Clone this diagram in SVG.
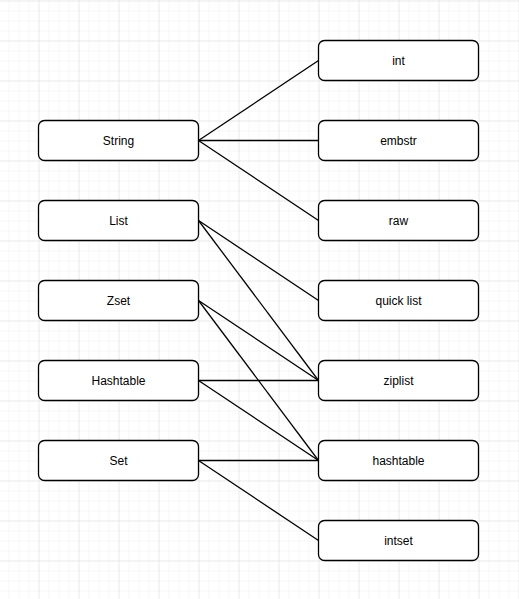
<svg xmlns="http://www.w3.org/2000/svg" width="519" height="599" viewBox="0 0 519 599">
<style>
.box{fill:#ffffff;stroke:#000000;stroke-width:1.3}
.lbl{font-family:"Liberation Sans",Arial,sans-serif;font-size:12px;fill:#000000;text-anchor:middle;dominant-baseline:central}
.edge{stroke:#000000;stroke-width:1.3;fill:none}
</style>
<defs>
<pattern id="minor" x="8.5" y="0.5" width="10" height="10" patternUnits="userSpaceOnUse">
<path d="M0 0 H10 M0 0 V10" stroke="#f0f0f0" stroke-width="1" fill="none"/>
</pattern>
<pattern id="major" x="38.5" y="0.5" width="40" height="40" patternUnits="userSpaceOnUse">
<path d="M0 0 H40 M0 0 V40" stroke="#e0e0e0" stroke-width="1" fill="none"/>
</pattern>
</defs>
<rect width="519" height="599" fill="#ffffff"/>
<rect width="519" height="599" fill="url(#minor)"/>
<rect width="519" height="599" fill="url(#major)"/>
<g id="connectors">
<line class="edge" x1="198.5" y1="140.5" x2="318.5" y2="60.5"/>
<line class="edge" x1="198.5" y1="140.5" x2="318.5" y2="140.5"/>
<line class="edge" x1="198.5" y1="140.5" x2="318.5" y2="220.5"/>
<line class="edge" x1="198.5" y1="220.5" x2="318.5" y2="300.5"/>
<line class="edge" x1="198.5" y1="220.5" x2="318.5" y2="380.5"/>
<line class="edge" x1="198.5" y1="300.5" x2="318.5" y2="380.5"/>
<line class="edge" x1="198.5" y1="300.5" x2="318.5" y2="460.5"/>
<line class="edge" x1="198.5" y1="380.5" x2="318.5" y2="380.5"/>
<line class="edge" x1="198.5" y1="380.5" x2="318.5" y2="460.5"/>
<line class="edge" x1="198.5" y1="460.5" x2="318.5" y2="460.5"/>
<line class="edge" x1="198.5" y1="460.5" x2="318.5" y2="540.5"/>
</g>
<g id="String"><rect class="box" x="38.5" y="120.5" width="160" height="40" rx="6"/><text class="lbl" x="118.5" y="140.5">String</text></g>
<g id="List"><rect class="box" x="38.5" y="200.5" width="160" height="40" rx="6"/><text class="lbl" x="118.5" y="220.5">List</text></g>
<g id="Zset"><rect class="box" x="38.5" y="280.5" width="160" height="40" rx="6"/><text class="lbl" x="118.5" y="300.5">Zset</text></g>
<g id="Hashtable"><rect class="box" x="38.5" y="360.5" width="160" height="40" rx="6"/><text class="lbl" x="118.5" y="380.5">Hashtable</text></g>
<g id="Set"><rect class="box" x="38.5" y="440.5" width="160" height="40" rx="6"/><text class="lbl" x="118.5" y="460.5">Set</text></g>
<g id="int"><rect class="box" x="318.5" y="40.5" width="160" height="40" rx="6"/><text class="lbl" x="398.5" y="60.5">int</text></g>
<g id="embstr"><rect class="box" x="318.5" y="120.5" width="160" height="40" rx="6"/><text class="lbl" x="398.5" y="140.5">embstr</text></g>
<g id="raw"><rect class="box" x="318.5" y="200.5" width="160" height="40" rx="6"/><text class="lbl" x="398.5" y="220.5">raw</text></g>
<g id="quicklist"><rect class="box" x="318.5" y="280.5" width="160" height="40" rx="6"/><text class="lbl" x="398.5" y="300.5">quick list</text></g>
<g id="ziplist"><rect class="box" x="318.5" y="360.5" width="160" height="40" rx="6"/><text class="lbl" x="398.5" y="380.5">ziplist</text></g>
<g id="hashtable"><rect class="box" x="318.5" y="440.5" width="160" height="40" rx="6"/><text class="lbl" x="398.5" y="460.5">hashtable</text></g>
<g id="intset"><rect class="box" x="318.5" y="520.5" width="160" height="40" rx="6"/><text class="lbl" x="398.5" y="540.5">intset</text></g>
</svg>
